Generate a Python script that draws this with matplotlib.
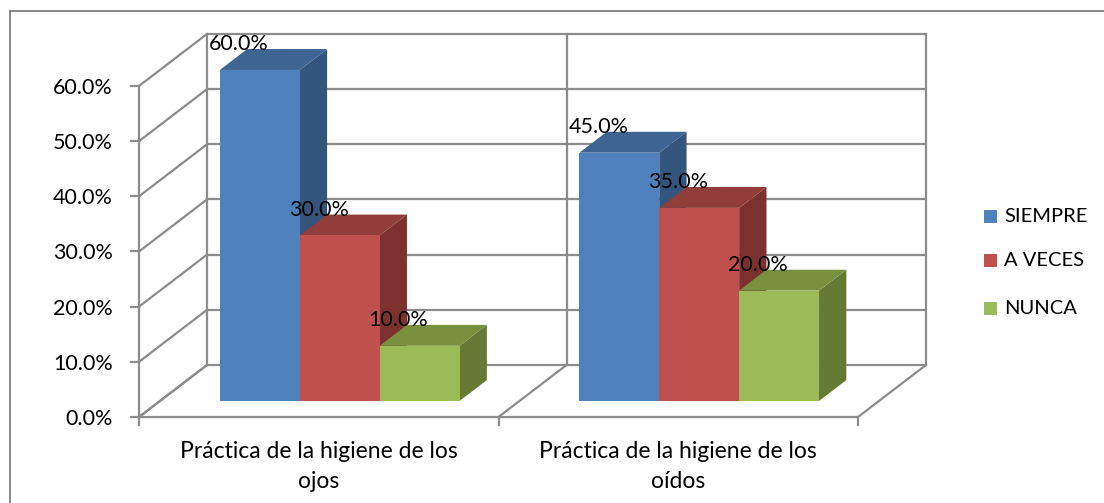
import matplotlib
matplotlib.use("Agg")
import matplotlib.pyplot as plt
from matplotlib.patches import Polygon, Rectangle

# ---- data ----
categories = ["Práctica de la higiene de los\nojos", "Práctica de la higiene de los\noídos"]
series_names = ["SIEMPRE", "A VECES", "NUNCA"]
siempre = [0.60, 0.45]
a_veces = [0.30, 0.35]
nunca = [0.10, 0.20]
series_values = [siempre, a_veces, nunca]
y_ticks = [0.0, 0.1, 0.2, 0.3, 0.4, 0.5, 0.6]
y_tick_labels = ["0.0%", "10.0%", "20.0%", "30.0%", "40.0%", "50.0%", "60.0%"]

# ---- style ----
front_cols = ["#4F81BD", "#C0504D", "#9BBB59"]
top_cols = ["#3E6592", "#913D3A", "#77913F"]
side_cols = ["#34557C", "#7D312F", "#657B35"]
grid_col = "#8C8C8C"
FONT = ["Lato", "DejaVu Sans"]

W, H, DPI = 1104, 503, 100
fig = plt.figure(figsize=(W / DPI, H / DPI), dpi=DPI)
ax = fig.add_axes([0, 0, 1, 1])
ax.set_axis_off()

# pixel geometry of the front plane (used only to set the axis scales)
px_x0, px_cat = 139, 359.5      # x of category 0 start, pixels per category
px_y0, px_val = 417, 551.7      # y of value 0, pixels per unit value
ax.set_xlim(-px_x0 / px_cat, (W - px_x0) / px_cat)
ax.set_ylim((px_y0 - H) / px_val, px_y0 / px_val)

DX = 68 / px_cat      # depth shear in x (category units)
DY = 52 / px_val      # depth shear in y (value units)
LW = 1.6

def P(x, v, z):
    return (x + z * DX, v + z * DY)

ncat = len(categories)
vmax = y_ticks[-1]

# outer frame
fx0 = (10 - px_x0) / px_cat
fy1 = (px_y0 - 11) / px_val
ax.add_patch(Rectangle((fx0, -1), 10, fy1 + 1, fill=False, ec="#888888", lw=1.4, zorder=1))

# back wall horizontal gridlines + left wall diagonals + front ticks
for v in y_ticks:
    ax.plot(*zip(P(0, v, 1), P(ncat, v, 1)), color=grid_col, lw=LW, zorder=2, solid_capstyle="butt")
    ax.plot(*zip(P(0, v, 0), P(0, v, 1)), color=grid_col, lw=LW, zorder=2)
    ax.plot([-8 / px_cat, 0], [v, v], color=grid_col, lw=LW, zorder=2)
# back wall verticals
for i in range(ncat + 1):
    ax.plot(*zip(P(i, 0, 1), P(i, vmax, 1)), color=grid_col, lw=LW, zorder=2)
    # floor diagonals
    ax.plot(*zip(P(i, 0, 0), P(i, 0, 1)), color=grid_col, lw=LW, zorder=2)
    # category ticks
    ax.plot([i, i], [0, -8 / px_val], color=grid_col, lw=LW, zorder=2)
# front axis lines
ax.plot([0, ncat], [0, 0], color=grid_col, lw=LW, zorder=2)
ax.plot([0, 0], [0, vmax], color=grid_col, lw=LW, zorder=2)

# tick labels
for v, lab in zip(y_ticks, y_tick_labels):
    ax.text(-26 / px_cat, v - 2 / px_val, lab, ha="right", va="center",
            fontsize=15.5, family=FONT, color="#000000")
for i, c in enumerate(categories):
    ax.text(i + 0.5, -24 / px_val, c, ha="center", va="top", fontsize=16.5,
            family=FONT, linespacing=1.55, color="#000000")

# bars
nser = len(series_values)
bw = 1 / (nser + 1.5)
gap = 0.75 * bw
z0, z1 = 0.308, 0.71
zo = 5
for i in range(ncat):
    for j in range(nser):
        v = series_values[j][i]
        xl = i + gap + j * bw
        xr = xl + bw
        front = [P(xl, 0, z0), P(xr, 0, z0), P(xr, v, z0), P(xl, v, z0)]
        top = [P(xl, v, z0), P(xr, v, z0), P(xr, v, z1), P(xl, v, z1)]
        side = [P(xr, 0, z0), P(xr, 0, z1), P(xr, v, z1), P(xr, v, z0)]
        ax.add_patch(Polygon(side, closed=True, fc=side_cols[j], ec="none", zorder=zo))
        ax.add_patch(Polygon(top, closed=True, fc=top_cols[j], ec="none", zorder=zo))
        ax.add_patch(Polygon(front, closed=True, fc=front_cols[j], ec="none", zorder=zo))
        zo += 1
        lx, ly = P((xl + xr) / 2, v, z1)
        ax.text((xl + xr) / 2, ly + 5 / px_val, f"{v * 100:.1f}%", ha="center", va="center",
                fontsize=15.5, family=FONT, color="#000000", zorder=50)

# legend (manual, in pixel-derived positions)
leg_x = (984 - px_x0) / px_cat
leg_ys = [216, 261, 308]
sq_w = 13 / px_cat
sq_h = 13 / px_val
for name, col, py in zip(series_names, front_cols, leg_ys):
    yv = (px_y0 - py) / px_val
    ax.add_patch(Rectangle((leg_x, yv - sq_h / 2), sq_w, sq_h, fc=col, ec="none", zorder=10))
    ax.text(leg_x + 20 / px_cat, yv, name, ha="left", va="center", fontsize=14.5,
            family=FONT, color="#000000")

fig.savefig("out.png", dpi=DPI)
